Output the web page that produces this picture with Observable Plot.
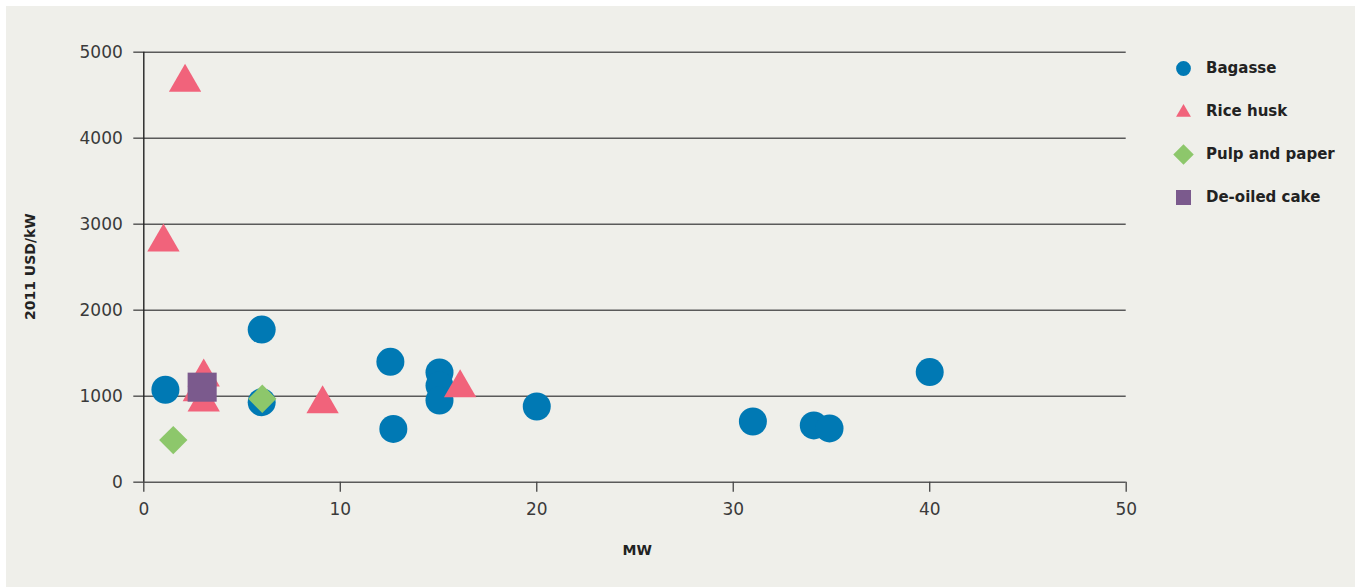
<!DOCTYPE html>
<html>
<head>
<meta charset="utf-8">
<script src="https://cdn.jsdelivr.net/npm/d3@7"></script>
<script src="https://cdn.jsdelivr.net/npm/@observablehq/plot@0.6"></script>
<style>
  html, body { margin: 0; padding: 0; background: #ffffff; }
  #panel { position: absolute; left: 6px; top: 6px; width: 1349px; height: 581px; background: #efefea; overflow: hidden; }
  #chart { position: absolute; left: 0; top: 0; }
  .lbl { position: absolute; font-family: "DejaVu Sans", sans-serif; font-weight: bold; font-size: 14px; color: #222; white-space: nowrap; }
  #ylabel { left: 24px; top: 261px; transform-origin: 0 0; transform: translate(0, 0) rotate(-90deg); }
  #legend { position: absolute; left: 1165px; top: 50px; font-family: "DejaVu Sans", sans-serif; font-weight: bold; font-size: 15px; color: #222; }
  .item { position: absolute; left: 0; height: 24px; white-space: nowrap; }
  .item svg { position: absolute; left: 0; top: 0; }
  .item span { position: absolute; left: 35px; top: 3px; }
</style>
</head>
<body>
<div id="panel">
  <div id="chart"></div>
  <div class="lbl" id="ylabel">2011 USD/kW</div>
  <div class="lbl" id="xlabel">MW</div>
  <div id="legend"></div>
</div>
<script>
// ---- Data ----
const categories = ["Bagasse", "Rice husk", "Pulp and paper", "De-oiled cake"];
const colors = ["#0079b4", "#f1637b", "#8dc76b", "#7b5a8d"];

const bagasseMW   = [1.1, 6.0, 6.0, 12.55, 12.7, 15.05, 15.05, 15.05, 20.0, 31.0, 34.1, 34.9, 40.0];
const bagasseCost = [1075, 1775, 930, 1400, 620, 1276, 1124, 950, 880, 706, 660, 625, 1280];

const riceMW   = [2.1, 1.0, 3.05, 2.8, 3.05, 9.1, 16.1];
const riceCost = [4650, 2790, 1220, 1050, 930, 910, 1095];

const pulpMW   = [1.5, 6.03];
const pulpCost = [490, 970];

const cakeMW   = [2.97];
const cakeCost = [1105];

const xTicks = [0, 10, 20, 30, 40, 50];
const yTicks = [0, 1000, 2000, 3000, 4000, 5000];

// ---- Build tables ----
const toRows = (xs, ys) => xs.map((x, i) => ({mw: x, cost: ys[i]}));
const bagasse = toRows(bagasseMW, bagasseCost);
const rice = toRows(riceMW, riceCost);
const pulp = toRows(pulpMW, pulpCost);
const cake = toRows(cakeMW, cakeCost);

// square rotated 45° (equal width and height)
const diamond = {
  draw(context, size) {
    const r = Math.sqrt(size / 2);
    context.moveTo(0, -r);
    context.lineTo(r, 0);
    context.lineTo(0, r);
    context.lineTo(-r, 0);
    context.closePath();
  }
};

const W = 1349, H = 575;
const plot = Plot.plot({
  width: W,
  height: H,
  marginLeft: 137.3,
  marginRight: 229.3,
  marginTop: 45.7,
  marginBottom: 99.3,
  style: {background: "transparent", fontFamily: "DejaVu Sans, sans-serif"},
  x: {domain: [0, 50]},
  y: {domain: [0, 5000]},
  marks: [
    Plot.gridY(yTicks, {stroke: "#5a5a5a", strokeOpacity: 1, strokeWidth: 1.5}),
    Plot.axisY(yTicks, {tickSize: 10, tickPadding: 11, stroke: "#5a5a5a", strokeWidth: 1.5,
      fontSize: 17, fill: "#3a3a3a", label: null, tickFormat: d => String(d)}),
    Plot.axisX(xTicks, {tickSize: 10, tickPadding: 11, stroke: "#444", strokeWidth: 1.3,
      fontSize: 17, fill: "#3a3a3a", label: null, tickFormat: d => String(d)}),
    Plot.ruleX([0], {stroke: "#222", strokeWidth: 1.4}),
    Plot.dot(bagasse, {x: "mw", y: "cost", r: 14, fill: colors[0], symbol: "circle"}),
    Plot.dot(rice, {x: "mw", y: "cost", r: 12, fill: colors[1], symbol: "triangle"}),
    Plot.dot(pulp, {x: "mw", y: "cost", r: 11.3, fill: colors[2], symbol: diamond}),
    Plot.dot(cake, {x: "mw", y: "cost", r: 16.4, fill: colors[3], symbol: "square"})
  ]
});
document.getElementById("chart").appendChild(plot);

// x label centred under the plot frame
const xs = plot.scale("x");
const xl = document.getElementById("xlabel");
xl.style.left = ((xs.apply(0) + xs.apply(50)) / 2 - 12) + "px";
xl.style.top = "536px";

// y label: rotated, centred on the frame
const ys = plot.scale("y");
const yl = document.getElementById("ylabel");
const yMid = (ys.apply(0) + ys.apply(5000)) / 2;
yl.style.left = "16px";
yl.style.top = (yMid + 53) + "px";

// ---- Legend ----
const legSymbols = [d3.symbolCircle, d3.symbolTriangle, diamond, d3.symbolSquare];
const legSizes = [Math.PI * 7.4 * 7.4, 96, 210, 225];
const legend = d3.select("#legend");
categories.forEach((c, i) => {
  const item = legend.append("div").attr("class", "item").style("top", (i * 43) + "px");
  const svg = item.append("svg").attr("width", 30).attr("height", 26);
  svg.append("path")
    .attr("transform", "translate(12.5," + (i === 1 ? 13.5 : 12.5) + ")")
    .attr("d", d3.symbol(legSymbols[i], legSizes[i])())
    .attr("fill", colors[i]);
  item.append("span").text(c);
});
</script>
</body>
</html>
